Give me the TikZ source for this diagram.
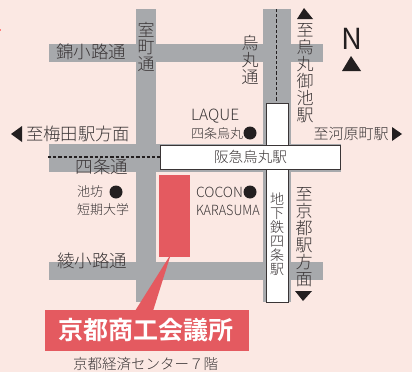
\documentclass[tikz,border=0pt]{standalone}
\usepackage{fontspec}
\setmainfont{Noto Sans CJK JP Light}
\newfontfamily\regf{Noto Sans CJK JP}
\newfontfamily\boldcjk{Noto Sans CJK JP Bold}
\definecolor{bgc}{HTML}{FBE8E3}
\definecolor{roadc}{HTML}{A7A9AC}
\definecolor{redc}{HTML}{E45A60}
\definecolor{inkc}{HTML}{3A3536}
\definecolor{darkc}{HTML}{231F20}
\newcommand{\fsz}[1]{\fontsize{#1pt}{#1pt}\selectfont}
\tikzset{
  road/.style={fill=roadc,draw=none},
  station/.style={fill=white,draw=inkc,line width=0.9pt},
  railway/.style={draw=darkc,line width=1.4pt,dash pattern=on 3.2pt off 2pt},
  lbl/.style={inner sep=0pt,outer sep=0pt,text=inkc,anchor=center},
  vlbl/.style={lbl,align=center,font=\fsz{17}},
  vsmall/.style={lbl,align=center,font=\fsz{14}},
  spot/.style={circle,fill=darkc,draw=none,inner sep=0pt,minimum size=13pt},
  tri/.style={fill=darkc,draw=none}
}
\begin{document}
\begin{tikzpicture}[x=1pt,y=-1pt]
\useasboundingbox (0,0) rectangle (412,372);
\fill[bgc] (0,0) rectangle (412,372);
\fill[red!45!bgc] (0,29) rectangle (1,31);
% roads
\fill[road] (49,44) rectangle (323,62);
\fill[road] (49,144) rectangle (341,172);
\fill[road] (49,262) rectangle (323,280);
\fill[road] (136,9) rectangle (156,302);
\fill[road] (263,9) rectangle (291,302);
% dashed rail lines
\coordinate (dw) at (48,157);
\coordinate (de) at (160,157);
\coordinate (dn) at (276.5,9);
\coordinate (ds) at (276.5,102);
\draw[railway] (dw) -- (de);
\draw[railway] (dn) -- (ds);
% stations
\draw[station] (266,103) rectangle (288,302);
\draw[station] (160,145) rectangle (340,169);
% building and callout
\fill[redc] (159,175) rectangle (190,257);
\fill[redc] (169,257) -- (135,311) -- (153,311) -- (170,257) -- cycle;
\fill[redc] (45,310) rectangle (249,351);
\node[inner sep=0pt,text=white] (title) at (146,330.5) {\fsz{25}\boldcjk 京都商工会議所};
\node[lbl] (sub) at (145.5,364) {\fsz{14.5}京都経済センター７階};
% street labels
\node[lbl] (nishiki) at (91,52) {\fsz{17.5}錦小路通};
\node[lbl] (aya) at (92,261) {\fsz{17.5}綾小路通};
\node[lbl] (shijo) at (102,167) {\fsz{17.5}四条通};
\node[vlbl] (muro) at (146,46.5) {室\\町\\通};
\node[vlbl] (kara) at (250,59.5) {烏\\丸\\通};
% direction labels
\node[vlbl] (oike) at (305,73) {至\\烏\\丸\\御\\池\\駅};
\node[vlbl] (kyoto) at (304,237) {至\\京\\都\\駅\\方\\面};
\node[lbl] (umeda) at (78,134) {\fsz{17.3}至梅田駅方面};
\node[lbl] (kawara) at (351,134) {\fsz{15}至河原町駅};
\fill[tri] (11,134) -- (22,126) -- (22,142) -- cycle;
\fill[tri] (402,134) -- (392,127) -- (392,141) -- cycle;
\fill[tri] (304,8) -- (297,19) -- (313,19) -- cycle;
\fill[tri] (303,301) -- (295,291) -- (312,291) -- cycle;
% north
\node[lbl,text=darkc] (north) at (351.5,39) {\regf\fsz{29}N};
\fill[tri] (351,56) -- (342,71) -- (361,71) -- cycle;
% stations text
\node[lbl] (hankyu) at (250.5,157) {\fsz{14.6}阪急烏丸駅};
\node[vsmall] (subway) at (277,234.5) {地\\下\\鉄\\四\\条\\駅};
% landmarks
\node[lbl,anchor=west] (laque) at (191,116) {\fsz{15.5}LAQUE};
\node[lbl,anchor=west] (laquej) at (191,134) {\fsz{13}四条烏丸};
\node[spot] (d1) at (250,133) {};
\node[lbl,anchor=west] (ike) at (77,192) {\fsz{13}池坊};
\node[spot] (d2) at (116,192) {};
\node[lbl,anchor=west] (tanki) at (77,210) {\fsz{13}短期大学};
\node[lbl,anchor=west] (cocon) at (196,192) {\fsz{14}COCON};
\node[lbl,anchor=west] (kas) at (196,210) {\scalebox{0.9}[1]{\fsz{14}KARASUMA}};
\node[spot] (d3) at (250,192) {};
\end{tikzpicture}
\end{document}
